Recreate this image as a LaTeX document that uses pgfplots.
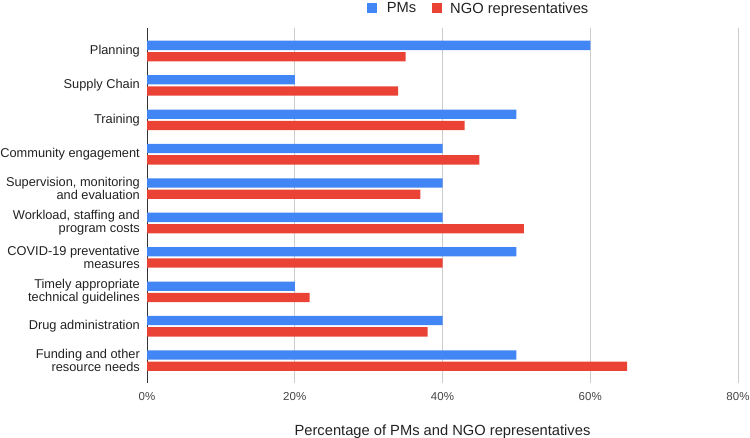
\documentclass[border=0pt]{standalone}
\usepackage{pgfplots}
\pgfplotsset{compat=1.18}
\usepackage{fontspec}
\setmainfont{Liberation Sans}
\definecolor{gblue}{HTML}{4285F4}
\definecolor{gred}{HTML}{EA4335}
\definecolor{gridc}{HTML}{CCCCCC}
\definecolor{axc}{HTML}{333333}
\definecolor{txt}{HTML}{222222}
\definecolor{tick}{HTML}{444444}
\begin{document}
\begin{tikzpicture}
\path[use as bounding box] (0,0) rectangle (750bp,438bp);
\begin{axis}[
  at={(147bp,55bp)}, anchor=south west,
  scale only axis, width=591bp, height=355bp,
  xmin=0, xmax=80, ymin=-0.651, ymax=9.669,
  xbar, bar width=9.3bp,
  axis y line=left, axis x line=bottom,
  x axis line style={draw=none,-},
  y axis line style={draw=axc, line width=1bp, -},
  major tick length=0pt,
  xmajorgrids, grid style={draw=gridc, line width=0.8bp},
  xtick={0,20,40,60,80},
  xticklabels={0\%,20\%,40\%,60\%,80\%},
  xticklabel style={anchor=base, inner sep=0pt, yshift=-17bp, text=tick,
    font=\fontsize{11.5bp}{13bp}\selectfont},
  ytick={0,1,2,3,4,5,6,7,8,9},
  yticklabels={{Funding and other\\resource needs},
    {Drug administration},
    {Timely appropriate\\technical guidelines},
    {COVID-19 preventative\\measures},
    {Workload, staffing and\\program costs},
    {Supervision, monitoring\\and evaluation},
    {Community engagement},
    {Training},
    {Supply Chain},
    {Planning}},
  yticklabel style={align=right, anchor=east, inner sep=0pt, xshift=-7bp, text=txt,
    font=\fontsize{12.8bp}{13bp}\selectfont},
  xlabel={Percentage of PMs and NGO representatives},
  xlabel style={at={(axis description cs:0.5,0)}, anchor=base, yshift=-52bp,
    inner sep=0pt, text=txt, font=\fontsize{14.7bp}{16bp}\selectfont},
  legend image code/.code={\fill[#1,draw=none] (0bp,-5bp) rectangle (10bp,5bp);},
  legend columns=2,
  legend cell align=left,
  legend style={at={(0.3728,1.055)}, anchor=west, draw=none, fill=none,
    inner sep=0pt, outer sep=0pt, /tikz/column sep=0pt,
    nodes={inner sep=0pt, text=txt, font=\fontsize{14.7bp}{16bp}\selectfont}},
]
\addplot[fill=gblue, draw=none, bar shift=5.65bp] coordinates {
  (50,0) (40,1) (20,2) (50,3) (40,4) (40,5) (40,6) (50,7) (20,8) (60,9)};
\addplot[fill=gred, draw=none, bar shift=-5.65bp] coordinates {
  (65,0) (38,1) (22,2) (40,3) (51,4) (37,5) (45,6) (43,7) (34,8) (35,9)};
\legend{\hspace*{9.5bp}PMs\hspace*{15.5bp}, \hspace*{8.5bp}NGO representatives}
\end{axis}
\end{tikzpicture}
\end{document}
